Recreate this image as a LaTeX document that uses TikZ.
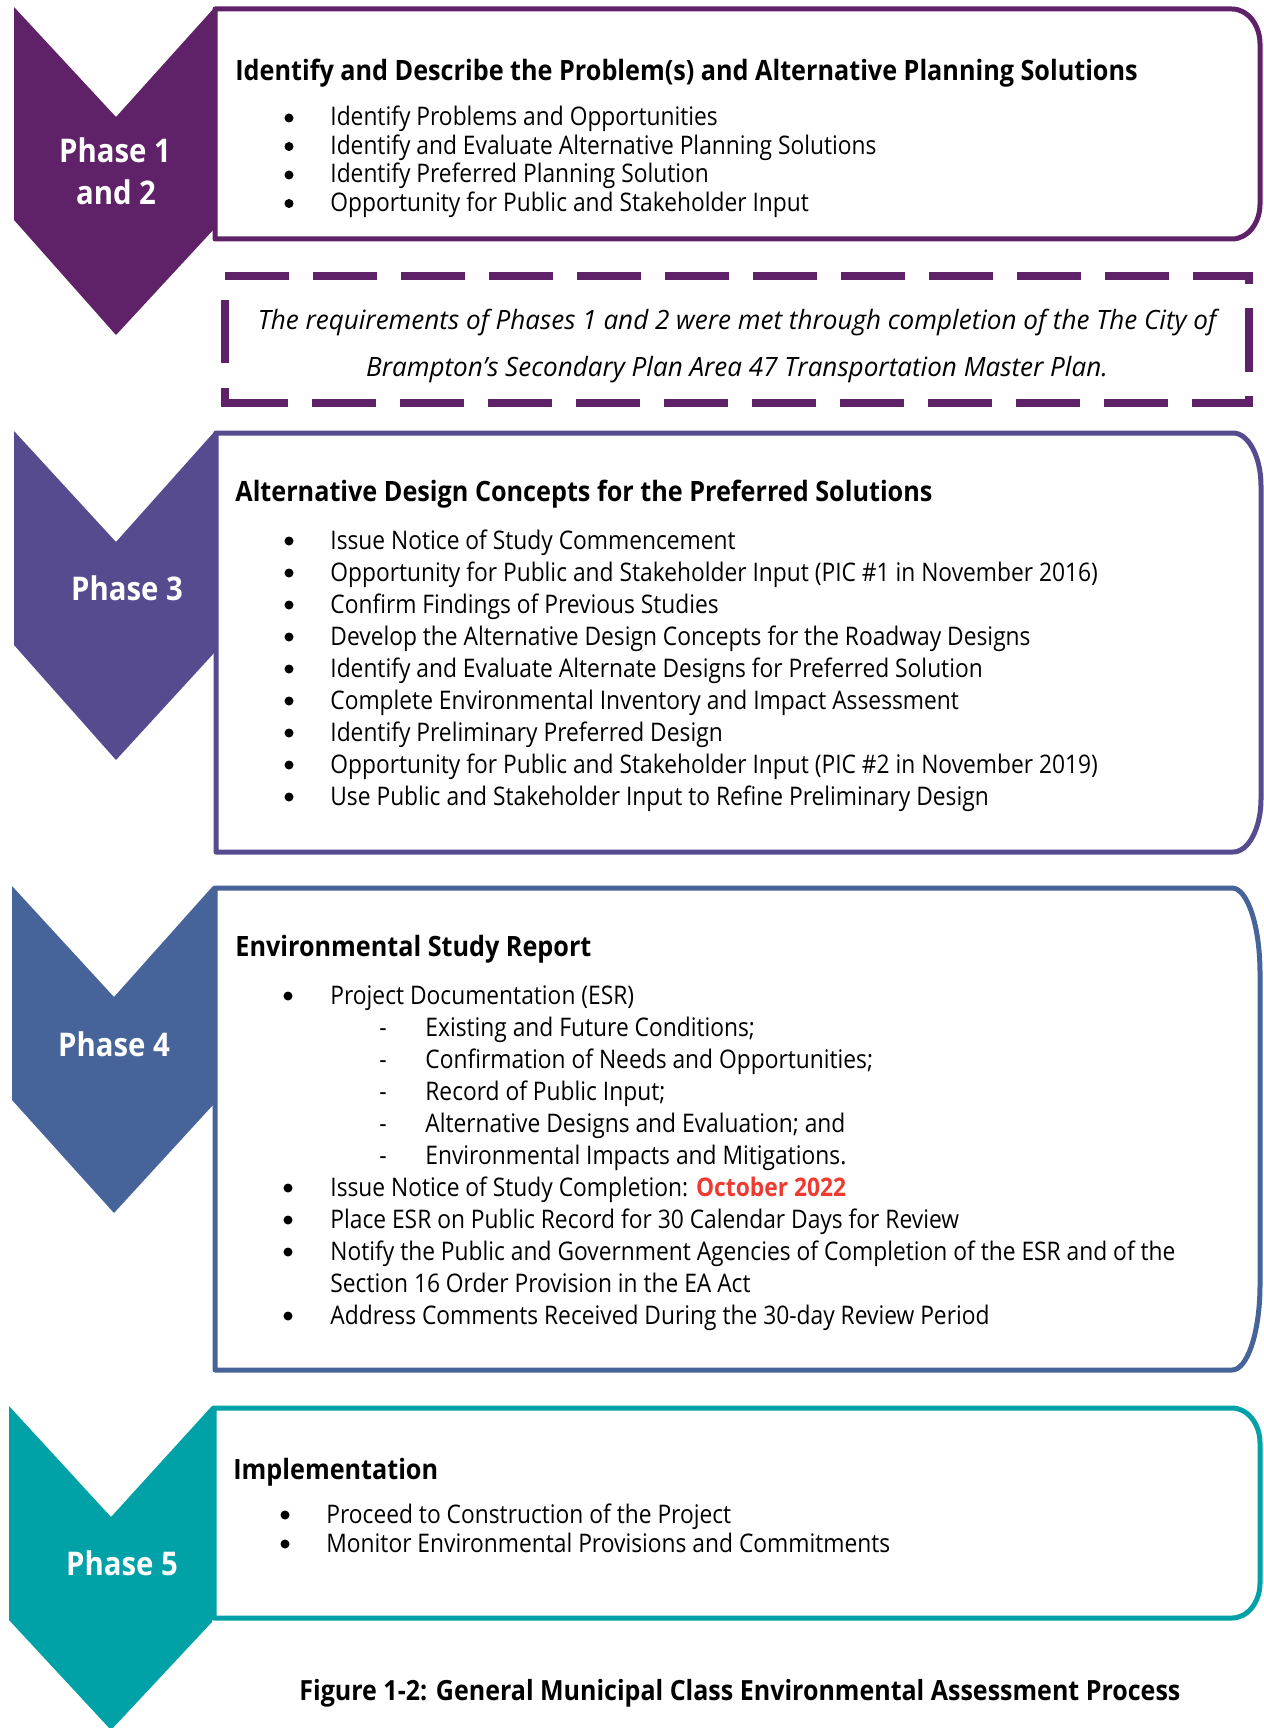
\documentclass[tikz,border=0pt]{standalone}
\usepackage{fontspec}
\setmainfont{Open Sans}[FakeStretch=0.89]
\newfontfamily\headfam{Open Sans}[FakeStretch=0.9]
\newfontfamily\notefam{Open Sans}[FakeStretch=0.98]
\definecolor{pone}{RGB}{95,33,103}
\definecolor{pthree}{RGB}{86,75,142}
\definecolor{pfour}{RGB}{71,100,154}
\definecolor{pfive}{RGB}{0,161,167}
\definecolor{datered}{RGB}{238,58,48}
\newcommand\phasebox[7]{%
  \draw[boxline,draw=#1] (#2,#3) -- ({#4-#6},#3)
    .. controls ({#4-0.4477*#6},#3) and (#4,{#3+0.4477*#7}) .. (#4,{#3+#7})
    -- (#4,{#5-#7})
    .. controls (#4,{#5-0.4477*#7}) and ({#4-0.4477*#6},#5) .. ({#4-#6},#5)
    -- (#2,#5) -- cycle;}
\tikzset{
  heading/.style={anchor=base west, inner sep=0pt, font=\headfam\fontsize{14}{16}\selectfont\bfseries},
  bodytxt/.style={anchor=base west, inner sep=0pt, font=\fontsize{12.8}{15}\selectfont},
  dashmark/.style={anchor=base, inner sep=0pt, font=\fontsize{12.8}{15}\selectfont},
  note/.style={anchor=base, inner sep=0pt, font=\notefam\fontsize{13.3}{16}\selectfont\itshape},
  phaselbl/.style={anchor=base, inner sep=0pt, text=white, font=\headfam\fontsize{16.3}{19}\selectfont\bfseries},
  caption/.style={anchor=base west, inner sep=0pt, font=\headfam\fontsize{13.9}{16}\selectfont\bfseries},
  blt/.style={circle, fill=black, inner sep=0pt, minimum size=4.5pt},
  boxline/.style={line width=2.5pt, fill=white, line join=round},
  dashbox/.style={draw=pone, line width=3.75pt, dash pattern=on 32pt off 12pt},
  dashstub/.style={draw=pone, line width=3.75pt},
}
\begin{document}
\begin{tikzpicture}[x=0.5pt,y=-0.5pt]
\useasboundingbox (0,0) rectangle (1263,1728);

% ---------- Phase 1 and 2 ----------
\fill[pone] (14,7) -- (116,117) -- (215,7) -- (215,228) -- (116,335) -- (14,220) -- cycle;
\phasebox{pone}{215}{9}{1260}{239}{28}{35}
\node[phaselbl] (p1a) at (115,163) {Phase 1};
\node[phaselbl] (p1b) at (116,205) {and 2};
\node[heading] (h1) at (235,81) {Identify and Describe the Problem(s) and Alternative Planning Solutions};
\node[blt] (b11) at (289,118) {};
\node[bodytxt] (t11) at (330,126) {Identify Problems and Opportunities};
\node[blt] (b12) at (289,146.5) {};
\node[bodytxt] (t12) at (330,154.5) {Identify and Evaluate Alternative Planning Solutions};
\node[blt] (b13) at (289,175) {};
\node[bodytxt] (t13) at (330,183) {Identify Preferred Planning Solution};
\node[blt] (b14) at (289,203.5) {};
\node[bodytxt] (t14) at (330,211.5) {Opportunity for Public and Stakeholder Input};

% ---------- dashed note ----------
\draw[dashbox] (225,276) -- (1249,276) -- (1249,403) -- (225,403);
\draw[dashstub] (225,300) -- (225,363);
\draw[dashstub] (225,388) -- (225,406.5);
\node[note] (n1) at (737,329) {The requirements of Phases 1 and 2 were met through completion of the The City of};
\node[note] (n2) at (737,376) {Brampton’s Secondary Plan Area 47 Transportation Master Plan.};

% ---------- Phase 3 ----------
\fill[pthree] (14,431) -- (116,542) -- (215,431) -- (215,652) -- (116,760) -- (14,645) -- cycle;
\phasebox{pthree}{216}{433}{1261}{852}{28}{53}
\node[phaselbl] (p3) at (127,600) {Phase 3};
\node[heading] (h3) at (235,501) {Alternative Design Concepts for the Preferred Solutions};
\node[blt] (b31) at (289,541) {};
\node[bodytxt] (t31) at (330,549) {Issue Notice of Study Commencement};
\node[blt] (b32) at (289,573) {};
\node[bodytxt] (t32) at (330,581) {Opportunity for Public and Stakeholder Input (PIC \#1 in November 2016)};
\node[blt] (b33) at (289,605) {};
\node[bodytxt] (t33) at (330,613) {Confirm Findings of Previous Studies};
\node[blt] (b34) at (289,637) {};
\node[bodytxt] (t34) at (330,645) {Develop the Alternative Design Concepts for the Roadway Designs};
\node[blt] (b35) at (289,669) {};
\node[bodytxt] (t35) at (330,677) {Identify and Evaluate Alternate Designs for Preferred Solution};
\node[blt] (b36) at (289,701) {};
\node[bodytxt] (t36) at (330,709) {Complete Environmental Inventory and Impact Assessment};
\node[blt] (b37) at (289,733) {};
\node[bodytxt] (t37) at (330,741) {Identify Preliminary Preferred Design};
\node[blt] (b38) at (289,765) {};
\node[bodytxt] (t38) at (330,773) {Opportunity for Public and Stakeholder Input (PIC \#2 in November 2019)};
\node[blt] (b39) at (289,797) {};
\node[bodytxt] (t39) at (330,805) {Use Public and Stakeholder Input to Refine Preliminary Design};

% ---------- Phase 4 ----------
\fill[pfour] (12,886) -- (114,997) -- (213,886) -- (213,1105) -- (114,1213) -- (12,1100) -- cycle;
\phasebox{pfour}{215}{888}{1260}{1370}{28}{85}
\node[phaselbl] (p4) at (114,1056) {Phase 4};
\node[heading] (h4) at (235,956) {Environmental Study Report};
\node[blt] (b41) at (288,996) {};
\node[bodytxt] (t41) at (330,1004) {Project Documentation (ESR)};
\node[dashmark] (d42) at (383,1036) {-};
\node[bodytxt] (t42) at (425,1036) {Existing and Future Conditions;};
\node[dashmark] (d43) at (383,1068) {-};
\node[bodytxt] (t43) at (425,1068) {Confirmation of Needs and Opportunities;};
\node[dashmark] (d44) at (383,1100) {-};
\node[bodytxt] (t44) at (425,1100) {Record of Public Input;};
\node[dashmark] (d45) at (383,1132) {-};
\node[bodytxt] (t45) at (425,1132) {Alternative Designs and Evaluation; and};
\node[dashmark] (d46) at (383,1164) {-};
\node[bodytxt] (t46) at (425,1164) {Environmental Impacts and Mitigations.};
\node[blt] (b47) at (288,1188) {};
\node[bodytxt] (t47) at (330,1196) {Issue Notice of Study Completion: {\bfseries\color{datered}October 2022}};
\node[blt] (b48) at (288,1220) {};
\node[bodytxt] (t48) at (330,1228) {Place ESR on Public Record for 30 Calendar Days for Review};
\node[blt] (b49) at (288,1252) {};
\node[bodytxt] (t49) at (330,1260) {Notify the Public and Government Agencies of Completion of the ESR and of the};
\node[bodytxt] (t410) at (330,1292) {Section 16 Order Provision in the EA Act};
\node[blt] (b411) at (288,1316) {};
\node[bodytxt] (t411) at (330,1324) {Address Comments Received During the 30-day Review Period};

% ---------- Phase 5 ----------
\fill[pfive] (9,1406) -- (111,1517) -- (212,1406) -- (212,1622) -- (111,1730) -- (9,1620) -- cycle;
\phasebox{pfive}{214}{1408}{1260}{1618}{28}{35}
\node[phaselbl] (p5) at (122,1575) {Phase 5};
\node[heading] (h5) at (233,1479) {Implementation};
\node[blt] (b51) at (285,1515) {};
\node[bodytxt] (t51) at (326,1523) {Proceed to Construction of the Project};
\node[blt] (b52) at (285,1544) {};
\node[bodytxt] (t52) at (326,1552) {Monitor Environmental Provisions and Commitments};

% ---------- caption ----------
\node[caption] (cap) at (299,1700) {Figure 1-2: General Municipal Class Environmental Assessment Process};
\end{tikzpicture}
\end{document}
